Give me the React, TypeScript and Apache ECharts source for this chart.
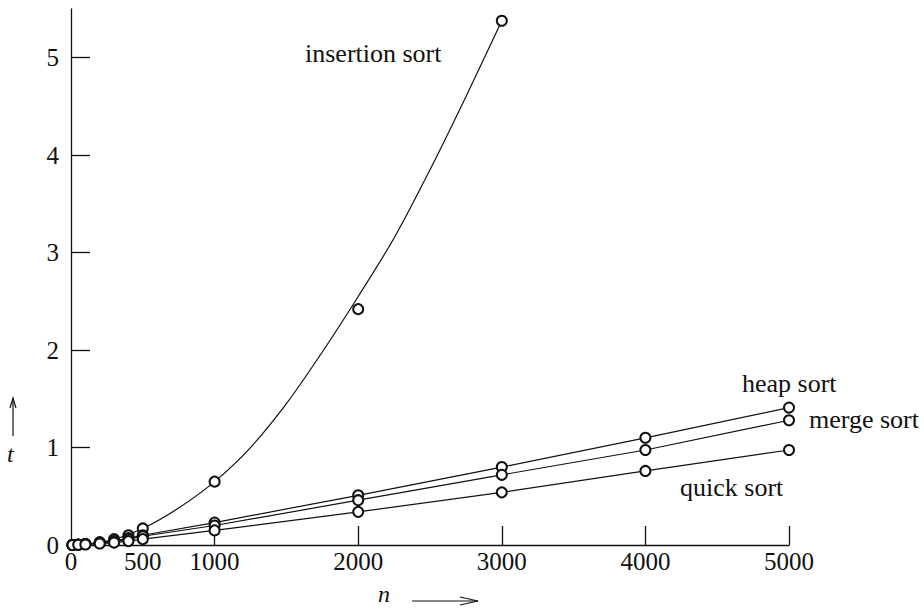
import React, { useEffect, useRef } from "react";
import * as echarts from "echarts";

const nValues = [10, 50, 100, 200, 300, 400, 500, 1000, 2000, 3000, 4000, 5000];
const insertionT = [0, 0.003, 0.01, 0.03, 0.06, 0.1, 0.17, 0.65, 2.42, 5.38];
const heapT = [0, 0.005, 0.01, 0.02, 0.04, 0.07, 0.1, 0.23, 0.51, 0.8, 1.1, 1.41];
const mergeT = [0, 0.004, 0.01, 0.02, 0.035, 0.06, 0.09, 0.2, 0.46, 0.72, 0.975, 1.28];
const quickT = [0, 0.003, 0.005, 0.015, 0.025, 0.04, 0.06, 0.15, 0.34, 0.54, 0.76, 0.975];

const insertionCurveN = [0, 250, 500, 750, 1000, 1250, 1500, 1750, 2000, 2250, 2500, 2750, 3000];
const insertionCurveT = [0, 0.04, 0.17, 0.38, 0.65, 1.0, 1.45, 1.98, 2.55, 3.15, 3.85, 4.6, 5.38];

const xLabels = [0, 500, 1000, 2000, 3000, 4000, 5000];
const xTicks = [1000, 2000, 3000, 4000, 5000];
const yLabels = [0, 1, 2, 3, 4, 5];
const yTicks = [1, 2, 3, 4, 5];

const FONT = "'Liberation Serif', 'DejaVu Serif', serif";
const INK = "#111";

const pairs = (xs: number[], ys: number[]) => ys.map((y, i) => [xs[i], y]);

export default function App() {
  const ref = useRef<HTMLDivElement>(null);
  useEffect(() => {
    document.body.style.margin = "0";
    if (!ref.current) return;
    const chart = echarts.init(ref.current, null, { renderer: "svg" });
    const symbolStyle = { color: INK, borderColor: INK, borderWidth: 1.1, opacity: 1 };
    const markSeries = (name: string, ys: number[]) => ({
      name,
      type: "line",
      data: pairs(nValues, ys),
      symbol: "emptyCircle",
      symbolSize: 10,
      showSymbol: true,
      clip: false,
      lineStyle: { color: INK, width: 1.2 },
      itemStyle: symbolStyle,
      z: 3,
    });
    const textStyle = { fontFamily: FONT, fontSize: 26, fill: INK };
    chart.setOption({
      animation: false,
      backgroundColor: "#fff",
      grid: { left: 71, right: 135, top: 9, bottom: 67, containLabel: false },
      xAxis: {
        type: "value",
        min: 0,
        max: 5000,
        interval: 1000,
        axisLine: { show: true, lineStyle: { color: INK, width: 1.3 } },
        axisTick: { show: true, inside: true, length: 19, customValues: xTicks, lineStyle: { color: INK, width: 1.3 } },
        axisLabel: {
          customValues: xLabels,
          formatter: (v: number) => String(v),
          fontFamily: FONT,
          fontSize: 25,
          color: INK,
          margin: 4,
          hideOverlap: false,
        },
        splitLine: { show: false },
      },
      yAxis: {
        type: "value",
        min: 0,
        max: 5.5,
        interval: 0.5,
        axisLine: { show: true, lineStyle: { color: INK, width: 1.3 } },
        axisTick: { show: true, inside: true, length: 19, customValues: yTicks, lineStyle: { color: INK, width: 1.3 } },
        axisLabel: { customValues: yLabels, formatter: (v: number) => String(v), fontFamily: FONT, fontSize: 25, color: INK, margin: 12 },
        splitLine: { show: false },
      },
      series: [
        {
          name: "insertion sort curve",
          type: "line",
          data: pairs(insertionCurveN, insertionCurveT),
          smooth: 0.3,
          showSymbol: false,
          symbol: "none",
          clip: false,
          lineStyle: { color: INK, width: 1.2 },
          z: 2,
        },
        {
          name: "insertion sort",
          type: "scatter",
          data: pairs(nValues, insertionT),
          symbol: "emptyCircle",
          symbolSize: 10,
          clip: false,
          itemStyle: symbolStyle,
          z: 3,
        },
        markSeries("heap sort", heapT),
        markSeries("merge sort", mergeT),
        markSeries("quick sort", quickT),
      ],
      graphic: [
        { type: "text", left: 305, top: 40, style: { ...textStyle, text: "insertion sort" } },
        { type: "text", left: 742, top: 370, style: { ...textStyle, text: "heap sort" } },
        { type: "text", left: 809, top: 406, style: { ...textStyle, text: "merge sort" } },
        { type: "text", left: 680, top: 474, style: { ...textStyle, text: "quick sort" } },
        { type: "text", left: 7, top: 442, style: { ...textStyle, fontSize: 24, fontStyle: "italic", text: "t" } },
        { type: "line", shape: { x1: 13, y1: 398, x2: 13, y2: 436 }, style: { stroke: INK, lineWidth: 1.2 } },
        { type: "polyline", shape: { points: [[10, 408], [13, 398], [16, 408]] }, style: { stroke: INK, lineWidth: 1.2, fill: "none" } },
        { type: "text", left: 378, top: 582, style: { ...textStyle, fontSize: 24, fontStyle: "italic", text: "n" } },
        { type: "line", shape: { x1: 412, y1: 601, x2: 478, y2: 601 }, style: { stroke: INK, lineWidth: 1.2 } },
        { type: "polyline", shape: { points: [[460, 597], [478, 601], [460, 605]] }, style: { stroke: INK, lineWidth: 1.2, fill: "none" } },
      ],
    });
    return () => chart.dispose();
  }, []);
  return <div ref={ref} style={{ width: 924, height: 612 }} />;
}
